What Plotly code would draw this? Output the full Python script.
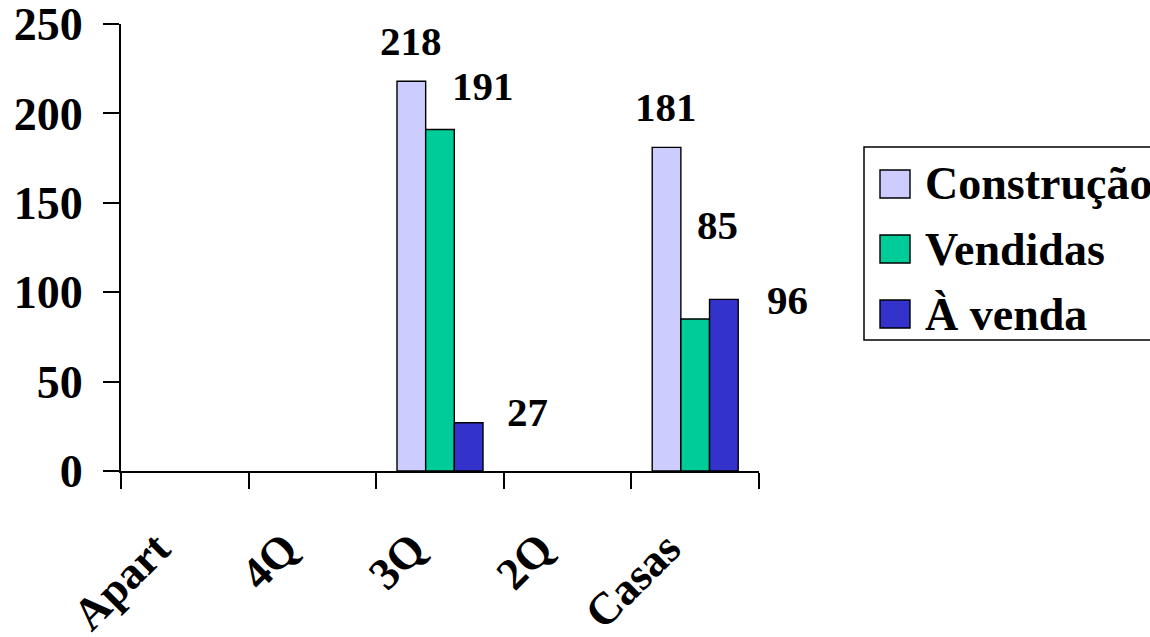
import plotly.graph_objects as go

# ---- data ----
categories = ["Apart", "4Q", "3Q", "2Q", "Casas"]
series_names = ["Construção", "Vendidas", "À venda"]
construcao = [None, None, 218, None, 181]
vendidas = [None, None, 191, None, 85]
a_venda = [None, None, 27, None, 96]
y_ticks = [0, 50, 100, 150, 200, 250]

# ---- style ----
colors = ["#CCCCFF", "#00CC99", "#3333CC"]
FONT = "Liberation Serif"
W, H = 1150, 637
L, R, T, B = 121, 759, 24, 471  # plot area in pixels

def px_x(px):
    return (px - L) / (R - L)

def px_y(py):
    return (B - py) / (B - T)

fig = go.Figure()
for name, vals, col in zip(series_names, [construcao, vendidas, a_venda], colors):
    fig.add_trace(go.Bar(
        x=categories, y=vals, name=name,
        marker=dict(color=col, line=dict(color="#000000", width=1.4)),
        showlegend=False,
    ))

# data labels (manually placed, offsets in px from category center / value)
label_offsets = {
    ("3Q", 0): (-29, 40), ("3Q", 1): (43, 43), ("3Q", 2): (87, 11),
    ("Casas", 0): (-29, 40), ("Casas", 1): (22, 94), ("Casas", 2): (92, -1),
}
annotations = []
for si, vals in enumerate([construcao, vendidas, a_venda]):
    for cat, v in zip(categories, vals):
        if v is None:
            continue
        dx, dy = label_offsets[(cat, si)]
        annotations.append(dict(
            x=cat, y=v, xref="x", yref="y", text=str(v), showarrow=False,
            xanchor="center", yanchor="middle", xshift=dx, yshift=dy,
            font=dict(family=FONT, size=41, color="#000000", weight="bold"),
        ))

# manual legend
shapes = [dict(type="rect", xref="paper", yref="paper",
               x0=px_x(864), x1=px_x(1165), y0=px_y(340), y1=px_y(147),
               line=dict(color="#000000", width=1.5), fillcolor="white", layer="above")]
item_centers = [184, 249, 314]
for name, col, cy in zip(series_names, colors, item_centers):
    shapes.append(dict(type="rect", xref="paper", yref="paper",
                       x0=px_x(880), x1=px_x(910), y0=px_y(cy + 14), y1=px_y(cy - 14),
                       line=dict(color="#000000", width=1.4), fillcolor=col, layer="above"))
    annotations.append(dict(
        x=px_x(923), y=px_y(cy), xref="paper", yref="paper", text=name,
        showarrow=False, xanchor="left", yanchor="middle",
        font=dict(family=FONT, size=46, color="#000000", weight="bold"),
    ))

fig.update_layout(
    width=W, height=H,
    margin=dict(l=L, r=W - R, t=T, b=H - B, pad=0, autoexpand=False),
    plot_bgcolor="white", paper_bgcolor="white",
    barmode="group", bargap=0.326, bargroupgap=0,
    font=dict(family=FONT, color="#000000"),
    shapes=shapes, annotations=annotations,
)
fig.update_xaxes(
    type="category", categoryorder="array", categoryarray=categories,
    range=[-0.5, len(categories) - 0.5], automargin=False,
    showline=True, linecolor="#000000", linewidth=2,
    ticks="outside", tickson="boundaries", ticklen=16, tickwidth=2, tickcolor="#000000",
    tickangle=-45, ticklabelstandoff=31, ticklabelshift=-28,
    ticklabeloverflow="allow",
    tickfont=dict(family=FONT, size=45, color="#000000", weight="bold"),
    showgrid=False, zeroline=False,
)
fig.update_yaxes(
    range=[0, 250], tickvals=y_ticks, automargin=False,
    showline=True, linecolor="#000000", linewidth=2,
    ticks="outside", ticklen=16, tickwidth=2, tickcolor="#000000",
    ticklabelstandoff=11, ticklabeloverflow="allow",
    tickfont=dict(family=FONT, size=46, color="#000000", weight="bold"),
    showgrid=False, zeroline=False,
)

fig.write_html("out.html", config={"displayModeBar": False},
               post_script="document.body.style.margin='0';")
